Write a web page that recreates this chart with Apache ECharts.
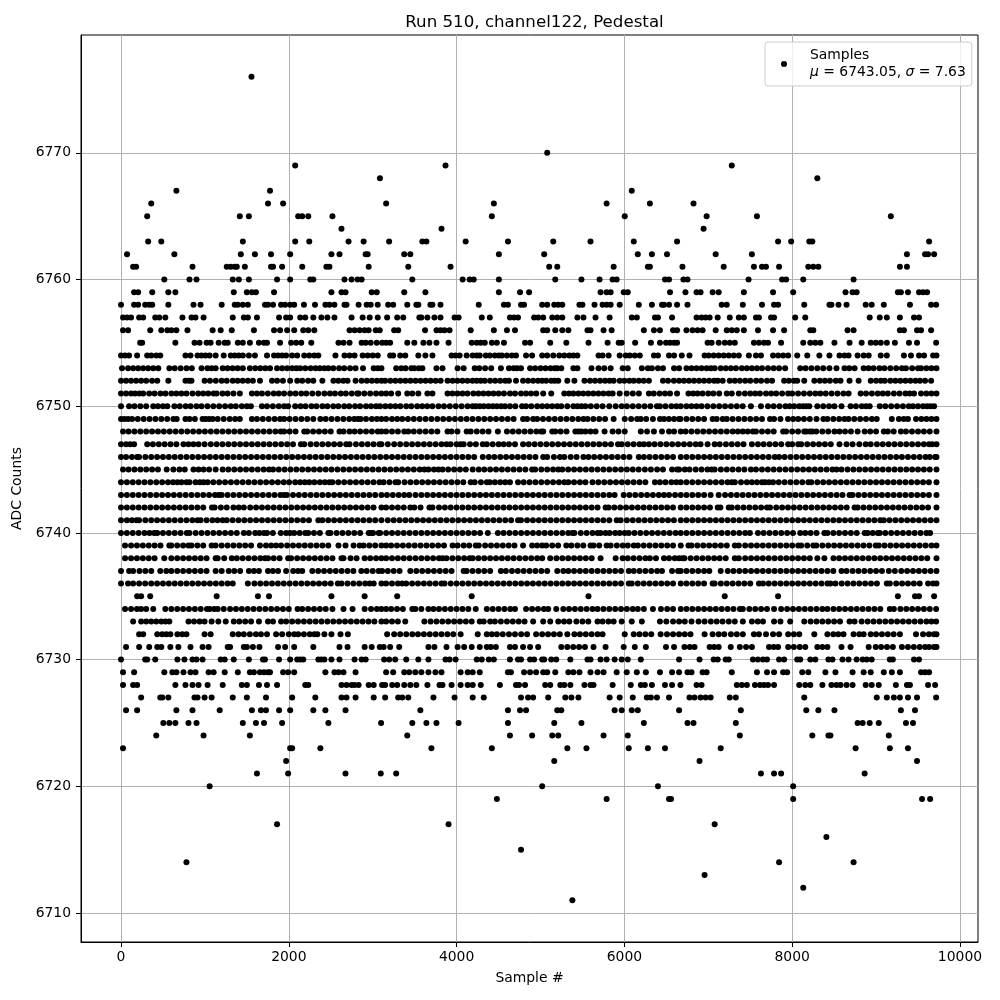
<!DOCTYPE html>
<html><head><meta charset="utf-8">
<script src="https://cdn.jsdelivr.net/npm/echarts@6/dist/echarts.min.js"></script>
<style>html,body{margin:0;padding:0;background:#fff}#c{width:1000px;height:1000px}</style>
</head><body><div id="c"></div>
<script>
const title = "Run 510, channel122, Pedestal";
const xLabel = "Sample #";
const yLabel = "ADC Counts";
const xTicks = [0,2000,4000,6000,8000,10000];
const yTicks = [6710,6720,6730,6740,6750,6760,6770];
const r6776=[1555];
const r6770=[5080];
const r6769=[2076,3868,7280];
const r6768=[3086,8300];
const r6767=[660,1776,6088];
const r6766=[360,1752,1932,3160,4444,5788,6304,6824];
const r6765=[312,1416,1524,2112,2160,2232,2520,4420,6004,6980,7580,9176];
const r6764=[2628,3820,6944];
const r6763=[324,480,1452,2076,2244,2712,2892,3196,3592,3640,4108,4612,5152,5596,6112,6628,7832,7988,8204,8240,9632];
const r6762=[72,636,1428,1596,1788,2016,2508,2604,2916,2940,3376,3448,4504,5044,6160,6328,6508,7088,7520,9368,9584,9620,9692];
const r6761=[144,180,852,1260,1308,1356,1380,1476,1788,1812,1920,2160,2448,2484,2952,3424,3928,5104,5200,5872,6280,6304,6692,7184,7544,7640,7688,7844,8192,8252,8312,9284,9368];
const r6760=[516,816,900,1332,1404,1524,1860,2016,2256,2292,2664,2748,2820,2868,3472,4072,4156,4204,4504,5176,5488,5704,5860,5908,6484,6532,6704,6752,7480,7880,7928,8132,8732];
const r6759=[156,204,372,564,648,1344,1500,1560,1608,1824,2508,2628,2676,2988,3048,3376,3628,4504,4756,4864,5716,5788,5836,5992,6040,6544,6728,6860,6908,7052,7124,7424,7772,8012,8636,8720,8768,9260,9296,9380,9512,9560,9608];
const r6758=[0,156,204,288,336,372,564,864,948,1200,1356,1392,1452,1512,1716,1752,1812,1908,1956,2016,2064,2180,2312,2436,2484,2544,2664,2688,2832,2928,2976,3060,3184,3244,3412,3520,3544,3688,3712,3808,4264,4564,4612,4768,4804,5020,5080,5164,5212,5260,5464,5500,5644,5740,5788,5836,5944,6172,6328,6448,6472,6532,6628,6752,7160,7220,7412,7640,7784,7832,8144,8444,8468,8552,8648,8876,8948,9092,9404,9656,9716];
const r6757=[24,72,120,216,264,408,456,528,732,840,888,984,1332,1464,1512,1620,1884,1968,2016,2136,2196,2292,2388,2460,2544,2748,2880,2964,3060,3172,3292,3364,3556,3580,3652,3736,3808,3976,4024,4300,4396,4636,4684,4732,4924,4972,5032,5140,5200,5260,5440,5512,5656,5824,6088,6148,6364,6400,6568,6860,6920,6968,7016,7112,7256,7364,7424,7568,7604,7748,7784,8036,8156,8924,9044,9128,9284,9452,9512];
const r6756=[24,84,348,480,552,600,660,792,1092,1188,1320,1584,1824,1896,1980,2064,2172,2232,2304,2724,2784,2844,2904,2952,3036,3084,3256,3304,3624,3760,3808,3856,3916,4168,4444,4600,4696,5032,5080,5176,5260,5332,5560,5596,5752,5848,6232,6352,6424,6580,6628,6740,6812,6872,6932,7088,7220,7280,7340,7424,7592,7772,7904,8216,8252,8660,8732,9284,9332,9488,9536,9656];
const r6755=[228,252,648,876,936,1020,1068,1164,1236,1272,1392,1452,1536,1644,1704,1740,1896,2028,2088,2148,2268,2592,2652,2724,2868,2916,2976,3048,3112,3160,3208,3412,3496,3604,3676,3760,3904,4180,4240,4288,4336,4420,4480,4564,4816,4876,5116,5308,5572,5800,5932,5968,6128,6316,6424,6496,6544,6592,6628,6992,7040,7124,7196,7256,7316,7544,7604,7664,7712,7868,8132,8216,8276,8336,8504,8684,8828,8936,8996,9056,9128,9224,9392,9488,9716];
const r6754=[0,48,96,192,312,360,420,468,768,828,912,960,1008,1056,1128,1224,1308,1356,1404,1452,1524,1596,1740,1824,1872,1920,1968,2040,2100,2184,2244,2304,2352,2556,2664,2724,2784,2880,2940,3000,3060,3208,3244,3328,3388,3544,3628,3712,3940,3988,4036,4120,4192,4240,4276,4348,4396,4456,4504,4540,4600,4660,4708,4828,4900,5020,5080,5152,5224,5284,5344,5392,5440,5692,5740,5812,5944,6016,6064,6124,6184,6352,6400,6532,6592,6684,6776,6956,7004,7064,7124,7184,7244,7304,7364,7484,7568,7628,7772,7832,7892,7952,8060,8180,8324,8444,8564,8624,8672,8780,8852,8912,9056,9128,9332,9416,9512,9572,9680,9720];
const r6753=[12,84,144,204,264,324,384,444,576,640,710,780,844,960,1030,1080,1128,1212,1270,1330,1390,1452,1536,1600,1660,1720,1776,1860,1920,1980,2040,2090,2136,2196,2260,2320,2370,2424,2472,2530,2600,2660,2730,2796,2884,3012,3060,3104,3280,3340,3392,3460,3496,3550,3592,3760,3832,4012,4084,4216,4270,4340,4412,4528,4624,4680,4720,4768,4876,4936,5000,5060,5120,5170,5200,5248,5392,5440,5608,5692,5760,5836,5980,6040,6208,6280,6328,6400,6460,6592,6652,6740,6800,6860,6920,6980,7030,7076,7148,7210,7270,7330,7400,7460,7520,7580,7640,7712,7780,7844,7916,8096,8160,8230,8300,8370,8444,8528,8624,8680,8744,8852,8910,8970,9040,9100,9170,9240,9308,9356,9430,9500,9536,9600,9660,9720];
const r6752=[0,60,120,180,240,300,370,432,564,768,810,840,996,1060,1130,1200,1260,1332,1390,1450,1512,1572,1656,1800,1860,1930,2016,2100,2160,2230,2292,2400,2532,2590,2650,2700,2796,2868,2930,2990,3050,3104,3148,3210,3270,3330,3390,3450,3510,3570,3630,3690,3750,3810,3892,3952,4010,4070,4130,4190,4240,4288,4336,4400,4460,4520,4580,4624,4708,4792,4852,4912,4970,5020,5068,5128,5170,5212,5320,5404,5524,5590,5650,5710,5770,5824,5872,5944,6000,6060,6112,6172,6230,6292,6460,6520,6590,6652,6710,6770,6830,6890,6950,7010,7070,7112,7172,7256,7316,7376,7440,7500,7570,7630,7700,7760,7904,7960,8020,8060,8144,8264,8330,8390,8450,8520,8576,8684,8792,8936,9000,9056,9104,9170,9230,9290,9350,9410,9470,9524,9584,9656];
const r6751=[0,60,120,168,220,264,336,400,470,530,600,660,720,780,852,920,980,1040,1104,1140,1210,1270,1340,1416,1560,1620,1680,1750,1820,1880,1944,2016,2080,2148,2208,2280,2352,2424,2490,2550,2620,2680,2750,2816,2832,2900,2970,3040,3104,3160,3220,3304,3412,3472,3544,3652,3712,3892,3950,4010,4070,4130,4200,4260,4320,4380,4440,4500,4564,4636,4696,4768,4828,4888,4950,5032,5128,5284,5340,5392,5452,5510,5570,5630,5690,5750,5812,5860,5944,6028,6100,6172,6292,6350,6420,6484,6544,6628,6764,6820,6872,6932,7000,7060,7130,7220,7280,7364,7436,7500,7560,7616,7688,7750,7810,7880,7952,8000,8070,8140,8210,8276,8336,8400,8470,8540,8610,8672,8816,8880,8950,9020,9080,9140,9212,9280,9350,9400,9452,9536,9600,9660,9720];
const r6750=[0,96,160,230,300,384,440,500,552,636,700,770,830,900,960,1030,1100,1170,1240,1308,1368,1440,1500,1548,1680,1740,1810,1880,1944,1992,2076,2140,2200,2270,2330,2400,2460,2530,2590,2660,2720,2790,2850,2920,2980,3040,3088,3150,3210,3270,3330,3400,3460,3530,3590,3650,3712,3784,3850,3920,3990,4060,4130,4192,4228,4276,4324,4380,4432,4480,4530,4576,4636,4700,4780,4828,4890,4960,5020,5080,5140,5200,5248,5320,5392,5440,5488,5536,5600,5670,5740,5820,5896,5968,6030,6100,6170,6240,6310,6388,6424,6490,6560,6620,6672,6740,6800,6860,6920,6990,7060,7130,7200,7270,7340,7410,7508,7628,7712,7780,7850,7920,7970,8024,8084,8130,8168,8204,8300,8370,8440,8504,8588,8696,8760,8830,8880,8924,9044,9110,9180,9250,9320,9390,9440,9500,9560,9608,9650,9692];
const r6749=[0,40,84,132,200,270,340,410,480,550,624,664,768,816,880,972,1008,1050,1092,1152,1224,1296,1360,1416,1560,1620,1690,1760,1830,1896,1944,2010,2080,2150,2220,2292,2376,2440,2510,2580,2650,2720,2780,2824,2856,2920,2990,3050,3104,3160,3230,3292,3352,3420,3490,3560,3630,3700,3770,3840,3910,3980,4050,4120,4190,4260,4330,4400,4470,4540,4610,4680,4792,4840,4912,4960,5030,5100,5170,5240,5310,5380,5450,5512,5560,5630,5700,5770,5872,6004,6080,6152,6196,6260,6340,6424,6472,6530,6592,6652,6668,6740,6810,6880,6950,7052,7100,7172,7220,7290,7360,7430,7500,7570,7640,7736,7784,7860,7950,8012,8072,8140,8210,8290,8372,8420,8490,8560,8624,8672,8740,8810,8880,8950,9008,9188,9272,9330,9380,9476,9540,9600,9660,9720];
const r6748=[24,90,160,230,300,370,440,510,580,650,720,790,860,930,1000,1070,1140,1210,1280,1350,1420,1490,1560,1630,1700,1770,1840,1904,1944,2010,2080,2184,2220,2290,2360,2430,2500,2604,2652,2724,2784,2850,2920,2990,3060,3104,3160,3230,3300,3376,3424,3490,3560,3630,3700,3770,3892,3940,4010,4120,4168,4240,4310,4380,4492,4600,4670,4740,4810,4880,4950,5008,5032,5140,5176,5240,5310,5416,5452,5488,5536,5596,5656,5764,5860,5930,6004,6196,6270,6352,6448,6532,6592,6672,6730,6800,6870,6940,7010,7080,7150,7220,7290,7352,7412,7470,7532,7568,7640,7710,7780,7892,7928,8000,8070,8144,8168,8212,8240,8288,8360,8430,8504,8564,8630,8700,8780,8864,8930,9000,9092,9140,9210,9296,9356,9428,9500,9570,9640,9720];
const r6747=[0,60,110,156,312,380,450,520,590,660,744,804,864,924,996,1070,1140,1210,1280,1350,1420,1490,1560,1630,1700,1770,1840,1910,1980,2050,2144,2184,2260,2330,2400,2470,2540,2610,2684,2724,2800,2870,2940,3010,3080,3104,3180,3256,3328,3400,3470,3540,3610,3680,3750,3820,3880,3928,4000,4048,4084,4160,4230,4312,4360,4430,4500,4560,4624,4696,4792,4860,4930,5000,5070,5140,5210,5280,5350,5420,5490,5560,5630,5700,5770,5840,5924,5968,6040,6110,6180,6232,6292,6360,6430,6500,6570,6640,6710,6780,6850,6908,6992,7076,7136,7210,7280,7350,7420,7520,7592,7660,7730,7800,7870,7952,8000,8072,8108,8180,8250,8320,8390,8460,8564,8648,8720,8800,8876,8936,9010,9080,9150,9220,9290,9360,9430,9500,9570,9632,9668,9720];
const r6746=[0,60,130,192,216,290,360,430,500,570,640,710,780,850,920,990,1060,1130,1200,1270,1340,1410,1480,1550,1620,1690,1760,1830,1900,1970,2040,2110,2180,2250,2320,2390,2460,2530,2600,2670,2740,2810,2880,2950,3020,3090,3160,3230,3300,3370,3440,3510,3580,3650,3720,3790,3860,3930,4000,4070,4140,4210,4312,4384,4450,4520,4590,4660,4730,4800,4870,4940,5032,5080,5160,5232,5284,5360,5430,5512,5572,5640,5710,5780,5850,5920,5990,6060,6172,6232,6300,6370,6440,6510,6580,6672,6740,6810,6880,6950,7020,7090,7160,7230,7300,7370,7440,7510,7580,7650,7720,7792,7844,7910,7980,8050,8120,8190,8260,8330,8400,8470,8540,8610,8680,8750,8820,8890,8960,9030,9100,9170,9240,9308,9380,9450,9520,9590,9640,9704,9720];
const r6745=[24,90,160,230,300,370,440,544,624,696,760,864,924,984,1050,1128,1212,1280,1350,1420,1490,1560,1630,1700,1764,1812,1880,1950,2020,2090,2160,2230,2300,2370,2440,2510,2580,2650,2720,2790,2860,2930,3000,3070,3140,3210,3280,3350,3420,3490,3560,3616,3664,3730,3784,3832,3900,3970,4040,4110,4192,4264,4330,4400,4470,4540,4610,4680,4750,4820,4900,4936,5010,5080,5150,5212,5260,5330,5400,5470,5540,5610,5680,5750,5820,5890,5960,6030,6100,6170,6244,6316,6390,6460,6568,6628,6652,6720,6776,6850,6920,6990,7040,7076,7150,7220,7290,7360,7430,7508,7568,7640,7710,7780,7850,7920,7990,8060,8130,8200,8270,8340,8410,8480,8528,8588,8660,8730,8800,8870,8940,9010,9080,9150,9220,9290,9360,9430,9500,9570,9640,9720];
const r6744=[0,70,140,210,280,350,420,490,560,620,672,720,780,816,888,940,984,1032,1100,1170,1240,1310,1380,1450,1520,1590,1660,1730,1800,1870,1940,2004,2076,2136,2190,2244,2304,2370,2430,2484,2520,2590,2660,2730,2800,2870,2940,3010,3080,3130,3200,3272,3304,3380,3450,3520,3590,3660,3730,3800,3870,3940,4010,4080,4168,4216,4290,4360,4396,4456,4520,4580,4636,4732,4800,4870,4940,5010,5080,5150,5220,5284,5332,5400,5470,5536,5620,5690,5760,5830,5900,5970,6040,6110,6180,6250,6364,6424,6490,6560,6620,6672,6740,6810,6880,6950,7020,7090,7160,7230,7280,7316,7390,7460,7520,7580,7640,7676,7724,7772,7840,7910,7980,8050,8120,8192,8228,8300,8370,8440,8510,8580,8650,8720,8790,8860,8930,9000,9070,9140,9210,9280,9350,9420,9490,9560,9630,9720];
const r6743=[0,70,140,210,280,350,420,490,560,630,700,770,840,910,980,1050,1120,1164,1200,1270,1340,1410,1480,1550,1620,1690,1760,1830,1900,1944,1976,2050,2120,2190,2260,2330,2400,2470,2540,2610,2680,2750,2820,2890,2960,3030,3104,3170,3240,3310,3376,3436,3510,3580,3650,3720,3790,3860,3930,4000,4070,4140,4210,4280,4350,4420,4490,4560,4630,4700,4770,4840,4910,4980,5050,5120,5190,5260,5330,5400,5470,5540,5610,5680,5750,5820,5884,5992,6060,6130,6200,6270,6340,6410,6472,6532,6604,6672,6740,6810,6880,6950,7028,7124,7200,7270,7340,7410,7480,7550,7620,7690,7760,7830,7900,7970,8040,8110,8180,8250,8320,8390,8460,8530,8600,8684,8720,8790,8860,8930,9000,9070,9140,9210,9280,9350,9420,9490,9560,9630,9720];
const r6742=[0,70,140,210,280,350,420,490,560,630,700,770,840,910,980,1084,1116,1190,1260,1340,1404,1464,1540,1610,1680,1750,1820,1890,1960,2030,2100,2170,2240,2310,2380,2450,2520,2590,2660,2730,2800,2870,2940,3010,3104,3160,3230,3300,3370,3448,3496,3570,3676,3712,3790,3860,3930,4000,4070,4140,4210,4280,4350,4420,4490,4560,4630,4700,4770,4840,4910,4980,5050,5120,5190,5260,5330,5400,5470,5540,5610,5680,5776,5812,5880,5950,6020,6090,6160,6230,6300,6370,6440,6510,6580,6672,6740,6810,6880,6950,7020,7112,7144,7244,7280,7350,7420,7490,7560,7630,7700,7736,7810,7880,7950,8020,8090,8160,8230,8300,8370,8440,8510,8580,8650,8744,8780,8850,8920,8990,9060,9130,9200,9270,9340,9410,9480,9550,9620,9720];
const r6741=[0,70,130,184,216,290,360,430,500,570,640,710,780,850,912,948,1020,1090,1150,1212,1260,1330,1400,1470,1540,1610,1680,1750,1820,1890,1960,2030,2100,2170,2240,2352,2400,2470,2540,2610,2680,2750,2820,2890,2960,3030,3104,3180,3250,3320,3390,3460,3530,3600,3670,3740,3810,3880,3950,4020,4090,4160,4230,4300,4370,4440,4510,4580,4650,4732,4768,4840,4910,4980,5050,5120,5190,5260,5330,5400,5470,5540,5610,5680,5750,5820,5908,5956,6030,6100,6170,6240,6310,6380,6450,6520,6590,6672,6740,6810,6880,6950,7020,7090,7160,7230,7300,7370,7440,7510,7580,7650,7720,7790,7860,7930,8000,8070,8140,8210,8280,8350,8420,8490,8560,8630,8700,8770,8840,8910,8980,9050,9092,9160,9230,9300,9370,9440,9510,9580,9650,9720];
const r6740=[0,70,140,210,280,340,396,432,500,570,640,710,784,816,890,960,1030,1100,1170,1240,1310,1380,1464,1524,1600,1650,1704,1740,1810,1904,1968,2016,2064,2130,2196,2232,2300,2370,2472,2496,2570,2640,2710,2780,2850,2952,2976,3004,3072,3088,3160,3230,3300,3370,3440,3510,3580,3650,3720,3790,3860,3930,4000,4070,4140,4210,4280,4372,4492,4560,4630,4700,4770,4840,4910,4980,5050,5120,5190,5260,5330,5380,5404,5480,5550,5620,5680,5716,5776,5824,5890,5944,6004,6052,6120,6190,6260,6330,6400,6470,6540,6610,6672,6740,6810,6880,6950,7020,7090,7160,7230,7300,7370,7440,7496,7592,7660,7730,7800,7870,7940,8010,8096,8156,8220,8290,8384,8420,8490,8560,8630,8700,8770,8864,8900,8960,9020,9044,9110,9180,9250,9320,9390,9460,9530,9600,9644];
const r6739=[48,120,190,260,330,400,470,576,600,670,740,804,840,910,980,1080,1128,1200,1270,1340,1410,1480,1550,1656,1728,1790,1848,1908,1980,2050,2120,2190,2260,2330,2400,2470,2592,2676,2772,2844,2892,2960,3030,3104,3160,3220,3290,3360,3430,3500,3570,3640,3710,3780,3850,3952,4012,4084,4150,4228,4264,4340,4410,4480,4550,4620,4690,4792,4900,4960,5020,5068,5140,5210,5308,5368,5440,5510,5596,5632,5700,5788,5836,5910,5980,6040,6112,6160,6230,6300,6370,6440,6510,6580,6672,6764,6800,6870,6940,7010,7080,7150,7220,7316,7364,7440,7510,7580,7650,7720,7790,7860,7930,8000,8072,8108,8180,8252,8288,8360,8430,8500,8570,8640,8710,8780,8850,8920,8996,9032,9100,9170,9240,9310,9380,9450,9520,9590,9660,9720];
const r6738=[48,120,190,260,330,400,516,600,670,740,810,880,950,1020,1128,1152,1230,1320,1380,1450,1520,1590,1660,1716,1752,1820,1890,1992,2028,2100,2170,2240,2310,2380,2450,2520,2628,2652,2736,2808,2904,2970,3040,3104,3160,3230,3300,3370,3440,3510,3580,3650,3720,3790,3832,3880,3950,4020,4090,4156,4192,4260,4330,4400,4470,4540,4610,4680,4750,4820,4890,4960,5020,5116,5190,5260,5330,5400,5470,5540,5610,5716,5896,5980,6040,6110,6180,6250,6304,6376,6472,6532,6600,6652,6692,6716,6790,6860,6930,7000,7070,7136,7208,7316,7364,7440,7510,7580,7650,7720,7790,7860,7930,8000,8070,8140,8210,8300,8384,8492,8560,8630,8700,8770,8840,8910,8980,9050,9120,9190,9260,9330,9400,9470,9540,9610,9720];
const r6737=[0,96,144,220,290,360,468,540,600,670,740,810,880,950,1020,1128,1200,1284,1350,1420,1524,1584,1644,1752,1810,1872,1968,2052,2110,2160,2280,2350,2420,2490,2560,2630,2700,2770,2864,2928,3000,3070,3112,3180,3250,3320,3448,3520,3590,3660,3730,3800,3870,3940,4084,4120,4190,4260,4330,4400,4528,4588,4660,4730,4800,4870,4940,5010,5080,5200,5272,5332,5400,5470,5540,5610,5680,5750,5820,5890,5960,6052,6112,6180,6250,6320,6390,6448,6568,6640,6672,6740,6810,6880,6950,7012,7148,7232,7300,7370,7440,7510,7580,7650,7720,7790,7860,7930,8000,8070,8140,8210,8280,8350,8420,8490,8588,8648,8720,8790,8860,8930,9000,9070,9152,9224,9300,9370,9440,9510,9580,9650,9720];
const r6736=[0,84,144,216,288,360,430,500,570,640,710,780,850,920,990,1060,1130,1200,1270,1332,1512,1590,1660,1730,1800,1870,1940,2010,2080,2150,2220,2290,2360,2430,2500,2584,2628,2700,2770,2840,2910,2964,3012,3104,3160,3230,3300,3352,3400,3470,3540,3610,3680,3750,3820,3856,3930,4000,4070,4140,4210,4280,4350,4420,4490,4560,4630,4700,4770,4840,4910,4980,5050,5120,5190,5260,5330,5400,5470,5540,5610,5680,5750,5820,5890,5960,6052,6088,6160,6230,6300,6370,6440,6510,6580,6672,6740,6810,6880,6950,7052,7076,7150,7220,7290,7360,7430,7500,7604,7652,7720,7790,7860,7930,8000,8070,8140,8210,8280,8350,8420,8456,8516,8590,8660,8730,8800,8870,8940,9010,9128,9164,9240,9310,9380,9450,9520,9620,9680,9720];
const r6735=[192,240,348,1140,1632,1764,2508,2904,3292,4180,5572,7196,7832,9260,9464,9512,9692];
const r6734=[48,120,190,240,300,384,528,600,670,740,810,880,950,1024,1056,1110,1152,1224,1300,1370,1440,1510,1580,1650,1720,1790,1860,1930,2000,2104,2160,2230,2300,2370,2440,2520,2652,2760,2904,2980,3050,3104,3160,3220,3290,3360,3472,3508,3580,3664,3724,3790,3860,3930,4000,4070,4140,4228,4360,4430,4500,4570,4640,4696,4828,4900,4970,5040,5092,5188,5272,5340,5410,5480,5550,5620,5680,5750,5820,5890,5960,6030,6100,6160,6232,6340,6436,6510,6580,6672,6740,6810,6880,6950,7020,7090,7160,7230,7300,7376,7412,7490,7560,7630,7700,7784,7868,7940,8010,8080,8150,8220,8290,8360,8420,8492,8560,8630,8700,8770,8840,8910,8980,9050,9164,9212,9290,9360,9430,9500,9570,9640,9716];
const r6733=[144,240,300,360,420,480,530,576,804,870,936,996,1080,1160,1248,1344,1410,1480,1550,1644,1752,1812,1908,1968,2040,2110,2180,2250,2320,2390,2460,2530,2600,2670,2740,2810,2880,2950,3020,3104,3160,3230,3300,3388,3616,3690,3760,3830,3900,3970,4040,4110,4180,4276,4324,4400,4456,4528,4600,4670,4740,4810,4912,5032,5116,5212,5280,5344,5428,5500,5570,5680,5740,5810,5872,5968,6088,6208,6424,6500,6580,6652,6720,6800,6884,6956,7030,7100,7170,7244,7316,7412,7520,7590,7652,7784,7860,7976,8144,8220,8290,8360,8430,8500,8570,8684,8744,8828,8900,8970,9040,9110,9180,9250,9320,9390,9460,9530,9600,9660,9716];
const r6732=[216,264,432,490,540,588,672,730,780,996,1068,1332,1400,1464,1536,1608,1668,1740,1848,1920,2000,2064,2112,2180,2250,2304,2340,2424,2508,2616,2704,3172,3256,3328,3400,3472,3540,3610,3680,3750,3820,3890,3960,4048,4252,4360,4420,4480,4550,4624,4696,4770,4840,4948,5020,5090,5160,5230,5320,5404,5470,5540,5610,5680,5740,6004,6112,6180,6250,6320,6432,6508,6580,6652,6720,6788,6956,7052,7124,7190,7270,7340,7412,7544,7604,7688,7772,7844,7952,8020,8084,8264,8420,8490,8550,8612,8732,8800,8852,8936,9000,9070,9140,9210,9284,9476,9560,9630,9690,9720];
const r6731=[60,216,336,432,480,588,684,828,972,1044,1272,1300,1464,1500,1572,1650,1872,1956,2064,2292,2604,2700,2904,2988,3084,3130,3208,3316,3664,3736,3880,4012,4090,4180,4276,4360,4408,4468,4636,4696,4792,4876,4972,5248,5320,5390,5460,5530,5632,5776,5992,6124,6256,6496,6592,6716,6780,6836,7016,7070,7124,7268,7376,7450,7520,7724,7780,7832,7952,8020,8090,8156,8300,8360,8420,8588,8696,8912,8996,9060,9130,9200,9308,9380,9450,9520,9584,9632,9690,9720];
const r6730=[0,288,312,408,672,756,852,900,972,1188,1236,1344,1524,1692,1716,1884,2016,2100,2136,2172,2352,2388,2424,2508,2604,2784,2868,2916,3136,3196,3268,3400,3544,3664,3868,3916,3988,4240,4300,4384,4444,4636,4732,4768,4876,4924,5020,5044,5128,5188,5356,5560,5596,5716,5788,5884,5968,6040,6196,6652,6896,7064,7112,7208,7244,7532,7592,7652,7700,7844,7904,8060,8096,8216,8276,8432,8480,8600,8672,8768,8840,8888,8948,9164,9200,9452,9512];
const r6729=[24,156,516,612,660,744,828,888,1044,1104,1236,1392,1536,1584,1656,1704,1752,1776,1932,1992,2064,2436,2544,2592,2652,2796,3160,3244,3376,3436,3508,3580,3664,3748,3820,4048,4132,4192,4276,4612,4648,4804,4876,4948,5032,5080,5176,5332,5392,5464,5596,5680,5752,5908,6028,6148,6256,6424,6568,6652,6752,6800,6932,6980,7280,7580,7700,7784,7892,7940,8120,8192,8396,8516,8720,8852,8936,9092,9188,9284,9536,9584,9632];
const r6728=[24,144,192,648,768,852,924,1032,1212,1440,1500,1644,1740,1860,2196,2232,2628,2688,2748,2784,2832,2952,3012,3112,3148,3232,3292,3376,3448,3520,3652,3796,3832,3940,4048,4132,4192,4288,4516,4708,4744,4816,5056,5116,5236,5284,5356,5524,5596,5632,5860,6076,6196,6244,6328,6484,6568,6668,6860,6920,7340,7400,7460,7556,7616,7664,7712,7784,8084,8156,8216,8360,8468,8528,8576,8648,8720,8876,8948,9032,9236,9368,9404,9620,9704];
const r6727=[240,468,492,564,876,912,996,1080,1332,1500,1728,2040,2316,2628,2688,2796,3012,3148,3304,3352,3424,3724,3976,4192,4324,4768,4852,4912,5092,5296,5368,5452,5824,5944,6100,6268,6316,6388,6532,6776,6836,6908,6968,7028,7256,7328,8144,9008,9128,9212,9284,9380,9488,9716];
const r6726=[60,192,660,852,1176,1560,1668,1728,1884,2016,2292,2436,2676,3568,4612,4756,4828,5200,5248,5884,5968,6088,6160,6652,7388,8168,8312,8504,9296,9464];
const r6725=[504,576,648,804,900,1452,1608,1704,1920,2472,3100,3472,3640,3760,4024,4612,5164,5488,6232,6752,6824,7328,8780,8840,8924,9032,9356,9440];
const r6724=[420,984,1536,3412,4636,4900,5140,5212,5752,6040,7376,8240,8432,8456,9152];
const r6723=[24,2016,2040,2376,3700,4420,5320,5548,6052,6280,6484,7148,8756,9164,9380];
const r6722=[1968,5164,6896,9488];
const r6721=[1620,1992,2676,3096,3280,7628,7784,7868,8864];
const r6720=[1056,5020,6400,8012];
const r6719=[4480,5788,6532,6556,8012,9548,9644];
const r6717=[1860,3904,7076];
const r6716=[8408];
const r6715=[4768];
const r6714=[780,7844,8732];
const r6713=[6956];
const r6712=[8132];
const r6711=[5380];
const rows = [[6776,r6776],[6770,r6770],[6769,r6769],[6768,r6768],[6767,r6767],[6766,r6766],[6765,r6765],[6764,r6764],[6763,r6763],[6762,r6762],[6761,r6761],[6760,r6760],[6759,r6759],[6758,r6758],[6757,r6757],[6756,r6756],[6755,r6755],[6754,r6754],[6753,r6753],[6752,r6752],[6751,r6751],[6750,r6750],[6749,r6749],[6748,r6748],[6747,r6747],[6746,r6746],[6745,r6745],[6744,r6744],[6743,r6743],[6742,r6742],[6741,r6741],[6740,r6740],[6739,r6739],[6738,r6738],[6737,r6737],[6736,r6736],[6735,r6735],[6734,r6734],[6733,r6733],[6732,r6732],[6731,r6731],[6730,r6730],[6729,r6729],[6728,r6728],[6727,r6727],[6726,r6726],[6725,r6725],[6724,r6724],[6723,r6723],[6722,r6722],[6721,r6721],[6720,r6720],[6719,r6719],[6717,r6717],[6716,r6716],[6715,r6715],[6714,r6714],[6713,r6713],[6712,r6712],[6711,r6711]];
const points = [];
rows.forEach(([lvl, xs]) => xs.forEach(x => points.push([x, lvl])));

const font = "DejaVu Sans";
const chart = echarts.init(document.getElementById('c'), null, {renderer:'canvas'});
const axisCommon = {
  axisLine:{show:true,onZero:false,lineStyle:{color:'#000',width:1}},
  axisTick:{show:true,length:5,lineStyle:{color:'#000',width:1}},
  splitLine:{show:true,lineStyle:{color:'#b0b0b0',width:1}},
  nameLocation:'middle',
  nameTextStyle:{fontFamily:font,fontSize:13.9,color:'#000'}
};
chart.setOption({
  animation:false,
  backgroundColor:'#fff',
  title:{text:title,left:529.5,top:9,textAlign:'center',textStyle:{fontFamily:font,fontSize:16.67,fontWeight:'normal',color:'#000'}},
  grid:{left:81,right:22,top:35,bottom:58,show:true,borderColor:'#000',borderWidth:1,containLabel:false},
  xAxis:Object.assign({},axisCommon,{type:'value',min:-477,max:10215,name:xLabel,nameGap:29,
    axisTick:Object.assign({},axisCommon.axisTick,{customValues:xTicks}),
    splitLine:Object.assign({},axisCommon.splitLine,{customValues:xTicks}),
    axisLabel:{customValues:xTicks,formatter:v=>String(v),fontFamily:font,fontSize:13.9,color:'#000',margin:8}}),
  yAxis:Object.assign({},axisCommon,{type:'value',min:6707.71,max:6779.3,name:yLabel,nameGap:49,
    axisTick:Object.assign({},axisCommon.axisTick,{customValues:yTicks}),
    splitLine:Object.assign({},axisCommon.splitLine,{customValues:yTicks}),
    axisLabel:{customValues:yTicks,formatter:v=>String(v),fontFamily:font,fontSize:13.9,color:'#000',margin:10}}),
  legend:{
    left:765,top:42,orient:'vertical',icon:'circle',itemWidth:6,itemHeight:6,
    padding:[5,6,5,16],backgroundColor:'rgba(255,255,255,0.8)',borderColor:'#ccc',borderWidth:1,borderRadius:3,
    data:['Samples'],
    formatter:()=> 'Samples\n{i|μ} = 6743.05, {i|σ} = 7.63',
    textStyle:{fontFamily:font,fontSize:13.9,color:'#000',lineHeight:17,padding:[0,0,0,18],
      rich:{i:{fontFamily:font,fontStyle:'italic',fontSize:13.9,color:'#000'}}}
  },
  series:[{name:'Samples',type:'scatter',symbol:'circle',symbolSize:6,itemStyle:{color:'#000',opacity:1},data:points,large:false,silent:true}]
});
</script></body></html>
